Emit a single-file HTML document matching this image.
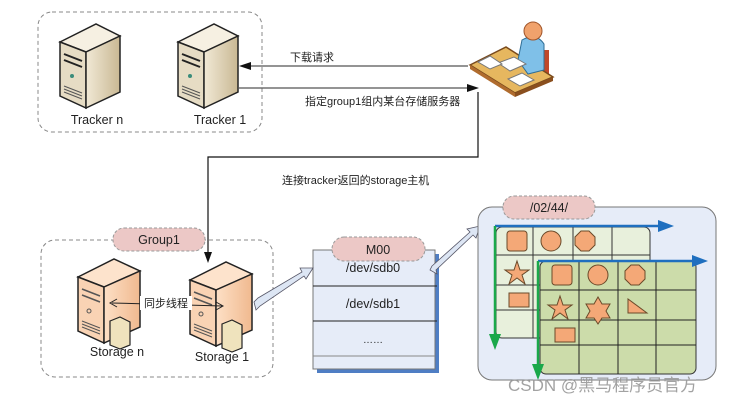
<!DOCTYPE html>
<html><head><meta charset="utf-8"><style>
html,body{margin:0;padding:0;background:#fff;}
svg{display:block;font-family:"Liberation Sans","Noto Sans CJK SC",sans-serif;}
</style></head><body>
<svg width="735" height="404" viewBox="0 0 735 404" xmlns="http://www.w3.org/2000/svg">
<defs>
<linearGradient id="tside" x1="0" x2="1"><stop offset="0" stop-color="#f1e9d6"/><stop offset="1" stop-color="#c9b893"/></linearGradient>
<linearGradient id="sside" x1="0" x2="1"><stop offset="0" stop-color="#fde0c6"/><stop offset="1" stop-color="#f0b98f"/></linearGradient>
<g id="tsrv">
  <polygon points="0,18 36,0 60,12 26,28" fill="#f6f0e2" stroke="#222" stroke-width="1.5"/>
  <polygon points="0,18 26,28 26,84 0,72" fill="#e6dcc4" stroke="#222" stroke-width="1.5"/>
  <polygon points="26,28 60,12 60,68 26,84" fill="url(#tside)" stroke="#222" stroke-width="1.5"/>
  <line x1="4" y1="30" x2="22" y2="37" stroke="#222" stroke-width="2"/>
  <line x1="4" y1="36" x2="22" y2="43" stroke="#222" stroke-width="2"/>
  <circle cx="12" cy="52" r="2" fill="#3a8c7a"/>
  <line x1="4" y1="62" x2="22" y2="69" stroke="#555"/><line x1="4" y1="65" x2="22" y2="72" stroke="#555"/><line x1="4" y1="68" x2="22" y2="75" stroke="#555"/>
</g>
<g id="ssrv">
  <polygon points="0,18 36,0 62,12 26,28" fill="#fde3cc" stroke="#222" stroke-width="1.5"/>
  <polygon points="0,18 26,28 26,84 0,72" fill="#f9d3b4" stroke="#222" stroke-width="1.5"/>
  <polygon points="26,28 62,12 62,68 26,84" fill="url(#sside)" stroke="#222" stroke-width="1.5"/>
  <line x1="4" y1="30" x2="22" y2="37" stroke="#555" stroke-width="1.5"/>
  <line x1="4" y1="36" x2="22" y2="43" stroke="#555" stroke-width="1.5"/>
  <circle cx="11" cy="52" r="2" fill="none" stroke="#555"/>
  <line x1="4" y1="62" x2="22" y2="69" stroke="#555"/><line x1="4" y1="65" x2="22" y2="72" stroke="#555"/><line x1="4" y1="68" x2="22" y2="75" stroke="#555"/>
  <polygon points="32,62 42,58 52,63 52,86 42,90 32,86" fill="#efe3bd" stroke="#222" stroke-width="1.2"/>
</g>
</defs>

<rect x="38" y="12" width="224" height="120" rx="14" fill="none" stroke="#888" stroke-dasharray="4,3"/>
<use href="#tsrv" x="60" y="24"/>
<use href="#tsrv" x="178" y="24"/>
<text x="97" y="124" font-size="12.5" text-anchor="middle" fill="#222">Tracker n</text>
<text x="220" y="124" font-size="12.5" text-anchor="middle" fill="#222">Tracker 1</text>

<rect x="541" y="50" width="8" height="26" fill="#c0482a"/>
<polygon points="470,65 506,47 553,77 515,93" fill="#e6b75f" stroke="#7a4a1c" stroke-width="1.5"/>
<polygon points="470,65 515,93 515,97 470,69" fill="#b06c2e"/>
<polygon points="515,93 553,77 553,81 515,97" fill="#8a4f1e"/>
<path d="M522 40 Q536 32 544 44 L544 70 L528 74 L518 60 Z" fill="#7fc0e8" stroke="#2f6e96"/>
<circle cx="533" cy="31" r="9" fill="#f0a26c" stroke="#a0552a"/>
<polygon points="498,63 514,57 526,64 510,71" fill="#fff" stroke="#777"/>
<polygon points="478,62 490,56 502,64 490,69" fill="#fff" stroke="#777"/>
<polygon points="508,79 522,73 534,80 520,86" fill="#fff" stroke="#777"/>

<line x1="468" y1="66" x2="250" y2="66" stroke="#555" stroke-width="1.2"/>
<polygon points="239,66 251,62 251,70" fill="#111"/>
<text x="290" y="61" font-size="11" fill="#222">下载请求</text>
<line x1="238" y1="88" x2="468" y2="88" stroke="#555" stroke-width="1.2"/>
<polygon points="479,88 467,84 467,92" fill="#111"/>
<text x="305" y="105" font-size="11" fill="#222">指定group1组内某台存储服务器</text>
<polyline points="478,92 478,157 208,157 208,252" fill="none" stroke="#111" stroke-width="1.2"/>
<polygon points="208,263 204,252 212,252" fill="#111"/>
<text x="282" y="184" font-size="11" fill="#222">连接tracker返回的storage主机</text>

<rect x="41" y="240" width="232" height="137" rx="14" fill="none" stroke="#888" stroke-dasharray="4,3"/>
<rect x="113" y="228" width="92" height="23" rx="11" fill="#ecc8c6" stroke="#999" stroke-dasharray="3,2"/>
<text x="159" y="244" font-size="12.5" text-anchor="middle" fill="#222">Group1</text>
<use href="#ssrv" x="78" y="259"/>
<use href="#ssrv" x="190" y="262"/>
<text x="117" y="356" font-size="12.5" text-anchor="middle" fill="#222">Storage n</text>
<text x="222" y="361" font-size="12.5" text-anchor="middle" fill="#222">Storage 1</text>
<line x1="112" y1="303" x2="222" y2="306" stroke="#222"/>
<polyline points="117,299 110,303 117,307" fill="none" stroke="#222"/>
<polyline points="216,302 223,306 216,310" fill="none" stroke="#222"/>
<rect x="140" y="296" width="52" height="14" fill="#fff"/>
<text x="166" y="307" font-size="11" text-anchor="middle" fill="#222">同步线程</text>

<rect x="317" y="254" width="122" height="119" fill="#4f7ec4"/>
<rect x="313" y="250" width="122" height="119" fill="#e6ecf8" stroke="#777"/>
<line x1="313" y1="286" x2="437" y2="286" stroke="#222"/>
<line x1="313" y1="321" x2="437" y2="321" stroke="#222"/>
<line x1="313" y1="356" x2="435" y2="356" stroke="#888"/>
<rect x="332" y="237" width="93" height="24" rx="12" fill="#ecc8c6" stroke="#999" stroke-dasharray="3,2"/>
<text x="378" y="254" font-size="12.5" text-anchor="middle" fill="#222">M00</text>
<text x="373" y="272" font-size="12.5" text-anchor="middle" fill="#222">/dev/sdb0</text>
<text x="373" y="308" font-size="12.5" text-anchor="middle" fill="#222">/dev/sdb1</text>
<text x="373" y="343" font-size="10" text-anchor="middle" fill="#222">……</text>

<polygon points="258,298 302,272 300,268 313,268 306,279 304,276 260,306 256,310 254,302" fill="#dde6f4" stroke="#556" stroke-width="0.8"/>
<polygon points="432,266 470,232 467,229 480,226 476,238 473,235 436,270 437,274 430,270" fill="#dde6f4" stroke="#556" stroke-width="0.8"/>

<rect x="478" y="207" width="238" height="173" rx="14" fill="#e6ecf8" stroke="#777"/>
<rect x="503" y="196" width="92" height="23" rx="11" fill="#ecc8c6" stroke="#999" stroke-dasharray="3,2"/>
<text x="549" y="212" font-size="12.5" text-anchor="middle" fill="#222">/02/44/</text>
<rect x="496" y="227" width="154" height="111" rx="6" fill="#e8f0dc" stroke="#333"/>
<g stroke="#333"><line x1="533" y1="227" x2="533" y2="338"/><line x1="573" y1="227" x2="573" y2="262"/><line x1="612" y1="227" x2="612" y2="262"/>
<line x1="496" y1="255" x2="650" y2="255"/><line x1="496" y1="285" x2="540" y2="285"/><line x1="496" y1="310" x2="540" y2="310"/></g>
<rect x="540" y="261" width="156" height="113" rx="6" fill="#ccdcaa" stroke="#333"/>
<g stroke="#222"><line x1="579" y1="261" x2="579" y2="374"/><line x1="618" y1="261" x2="618" y2="374"/><line x1="656" y1="261" x2="656" y2="374"/>
<line x1="540" y1="290" x2="696" y2="290"/><line x1="540" y1="320" x2="696" y2="320"/><line x1="540" y1="345" x2="696" y2="345"/></g>
<g fill="#f4a877" stroke="#6a4a2a">
<rect x="507" y="231" width="20" height="20" rx="3"/><circle cx="551" cy="241" r="10"/><polygon points="581,231 589,231 595,237 595,245 589,251 581,251 575,245 575,237"/>
<polygon points="517,261 520,270 529,270 522,275 525,284 517,278 509,284 512,275 505,270 514,270"/>
<rect x="509" y="293" width="20" height="14"/>
<rect x="552" y="265" width="20" height="20" rx="3"/><circle cx="598" cy="275" r="10"/><polygon points="631,265 639,265 645,271 645,279 639,285 631,285 625,279 625,271"/>
<polygon points="560,296 563,305 572,305 565,310 568,319 560,313 552,319 555,310 548,305 557,305"/>
<polygon points="598,297 602,304 610,304 606,311 610,318 602,318 598,324 594,318 586,318 590,311 586,304 594,304"/>
<polygon points="628,299 628,313 647,313"/>
<rect x="555" y="328" width="20" height="14"/>
</g>
<line x1="495" y1="226" x2="660" y2="226" stroke="#1f6fbf" stroke-width="2.5"/>
<polygon points="674,226 658,220 658,232" fill="#1f6fbf"/>
<line x1="538" y1="261" x2="695" y2="261" stroke="#1f6fbf" stroke-width="2.5"/>
<polygon points="708,261 692,255 692,267" fill="#1f6fbf"/>
<line x1="495" y1="226" x2="495" y2="338" stroke="#1aa84a" stroke-width="2.5"/>
<polygon points="495,350 489,334 501,334" fill="#1aa84a"/>
<line x1="538" y1="261" x2="538" y2="368" stroke="#1aa84a" stroke-width="2.5"/>
<polygon points="538,380 532,364 544,364" fill="#1aa84a"/>

<text x="508" y="391" font-size="17" fill="#999" opacity="0.9">CSDN @黑马程序员官方</text>
</svg>
</body></html>
